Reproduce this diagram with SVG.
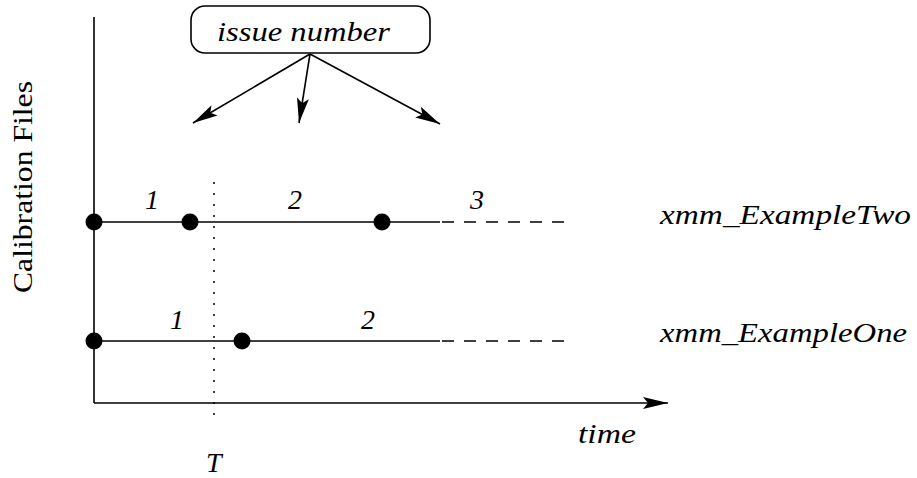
<svg xmlns="http://www.w3.org/2000/svg" width="917" height="478" viewBox="0 0 917 478">
<style>
.ln{stroke:#000;stroke-width:1.6;fill:none}
.dash{stroke:#000;stroke-width:1.4;fill:none;stroke-dasharray:12,10}
.dot{stroke:#000;stroke-width:1.5;fill:none;stroke-dasharray:2,9}
.pt{fill:#000}
</style>
<defs>
<marker id="ah" markerWidth="26" markerHeight="14" refX="25" refY="6" orient="auto" markerUnits="userSpaceOnUse" viewBox="0 0 26 12">
<path d="M0,0 L25,6 L0,12 L5,6 Z" fill="#000"/>
</marker>
</defs>
<g font-family="Liberation Serif, serif" font-size="28" fill="#000">
<g id="axes">
<line class="ln" x1="94" y1="17" x2="94" y2="403"/>
<line class="ln" x1="94" y1="403" x2="668" y2="403" marker-end="url(#ah)"/>
<text transform="translate(32,187) rotate(-90)" text-anchor="middle" textLength="212" lengthAdjust="spacingAndGlyphs">Calibration Files</text>
<text font-style="italic" x="578" y="443" textLength="58" lengthAdjust="spacingAndGlyphs">time</text>
</g>
<g id="marker-T">
<line class="dot" x1="214" y1="182" x2="214" y2="422"/>
<text font-style="italic" x="206" y="472">T</text>
</g>
<g id="issue-number">
<rect x="191" y="6" width="239" height="47" rx="14" ry="14" class="ln"/>
<text font-style="italic" x="217" y="41" textLength="173" lengthAdjust="spacingAndGlyphs">issue number</text>
</g>
<g id="xmm_ExampleTwo" font-style="italic">
<line class="ln" x1="94" y1="222" x2="440" y2="222"/>
<line class="dash" x1="442" y1="222" x2="570" y2="222"/>
<circle class="pt" cx="94" cy="222" r="8.5"/>
<circle class="pt" cx="190" cy="222" r="8.5"/>
<circle class="pt" cx="382" cy="222" r="8.5"/>
<text x="152" y="209" text-anchor="middle">1</text>
<text x="295" y="209" text-anchor="middle">2</text>
<text x="477" y="209" text-anchor="middle">3</text>
<text x="660" y="224" textLength="251" lengthAdjust="spacingAndGlyphs">xmm_ExampleTwo</text>
</g>
<g id="xmm_ExampleOne" font-style="italic">
<line class="ln" x1="94" y1="341" x2="440" y2="341"/>
<line class="dash" x1="442" y1="341" x2="570" y2="341"/>
<circle class="pt" cx="94" cy="341" r="8.5"/>
<circle class="pt" cx="242" cy="341" r="8.5"/>
<text x="177" y="329" text-anchor="middle">1</text>
<text x="368" y="329" text-anchor="middle">2</text>
<text x="660" y="342" textLength="247" lengthAdjust="spacingAndGlyphs">xmm_ExampleOne</text>
</g>
<g id="connectors">
<line class="ln" x1="310" y1="54" x2="193" y2="123" marker-end="url(#ah)"/>
<line class="ln" x1="310" y1="54" x2="299" y2="123" marker-end="url(#ah)"/>
<line class="ln" x1="310" y1="54" x2="440" y2="124" marker-end="url(#ah)"/>
</g>
</g>
</svg>
